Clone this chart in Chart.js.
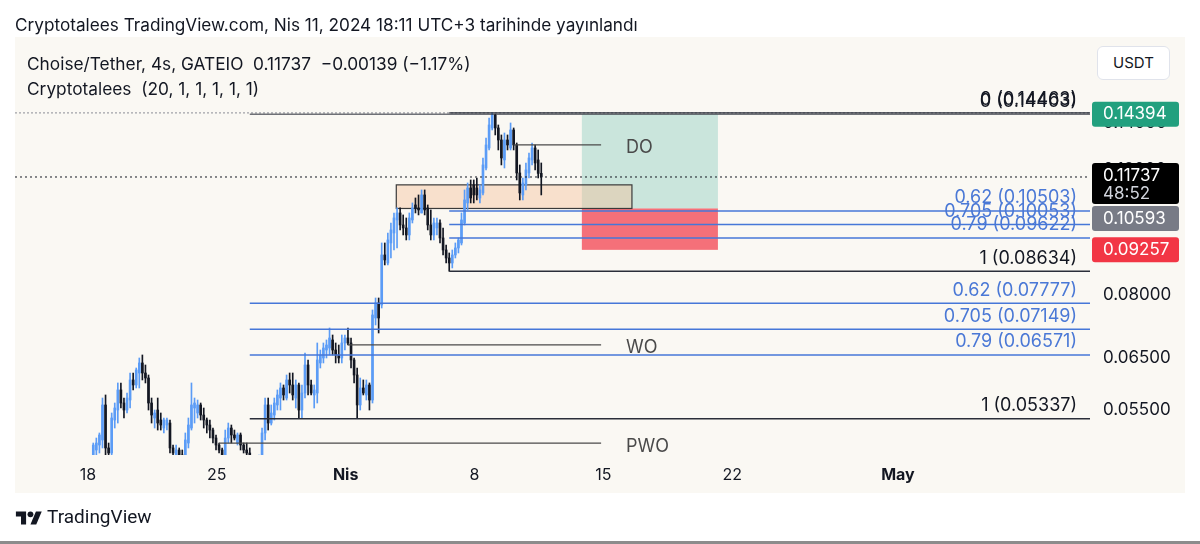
<!DOCTYPE html>
<html><head><meta charset="utf-8">
<script src="https://cdn.jsdelivr.net/npm/chart.js@4.4.1/dist/chart.umd.min.js"></script>
<style>
html,body{margin:0;padding:0;background:#fff;width:1200px;height:544px;overflow:hidden;font-family:Inter,Roboto,sans-serif;color:#131722}
#wrap{position:relative;width:1200px;height:544px}
canvas{position:absolute;left:0;top:0}
.t{position:absolute;white-space:nowrap;line-height:20px;color:#131722}
#usdt{position:absolute;left:1097px;top:46px;width:71px;height:32px;border:1px solid #e0e3eb;border-radius:6px;background:#fff;font-size:15px;line-height:32px;text-align:center;color:#131722}
#bottomline{position:absolute;left:0;top:541px;width:1200px;height:3px;background:#8c8c8c}
</style></head><body>
<div id="wrap">
<canvas id="c" width="1200" height="544"></canvas>
<div class="t" style="left:15px;top:15px;font-size:17.2px">Cryptotalees TradingView.com, Nis 11, 2024 18:11 UTC+3 tarihinde yayınlandı</div>
<div class="t" style="left:27px;top:54px;font-size:17.3px">Choise/Tether, 4s, GATEIO&nbsp; 0.11737&nbsp; −0.00139 (−1.17%)</div>
<div class="t" style="left:27px;top:79px;font-size:17.3px">Cryptotalees&nbsp; (20, 1, 1, 1, 1, 1)</div>
<div id="usdt">USDT</div>
<svg style="position:absolute;left:15px;top:510px" width="28" height="16" viewBox="0 0 36 22"><path d="M14 20H7V9H0V2h14v18z" fill="#131722"/><circle cx="20" cy="6" r="4" fill="#131722"/><path d="M28 20h-8l7.5-18h8L28 20z" fill="#131722"/></svg>
<div class="t" style="left:47px;top:507px;font-size:19px;font-family:Roboto">TradingView</div>
<div id="bottomline"></div>
</div>
<script>
// x values are days relative to Nis 1, 2024 00:00 (UTC+3)
const firstCandleDay = -13.875;      // Mar 18, 03:00
const candleStepDays = 4 / 24;       // 4h candles
const xMin = -17.96, xMax = 40.43;
const yMin = 0.04744, yMax = 0.18461;

const xTickDays = [-14, -7, 0, 7, 14, 21, 30];
const xTickLabels = ['18', '25', 'Nis', '8', '15', '22', 'May'];
const yTickValues = [0.055, 0.065, 0.08, 0.12, 0.14];

const opens = [
.04548,.04744,.04822,.04901,.04982,.05584,.04854,.04775,.05317,.05493,
.05864,.05620,.05493,.05675,.06058,.05960,.06197,.06403,.06197,.06097,
.05620,.05352,.05493,.05317,.05180,.05231,.05265,.04854,.04744,.04822,
.04744,.04698,.04933,.05180,.05529,.05440,.05584,.05404,.05317,.05231,
.05146,.05014,.04901,.04822,.04744,.05014,.05180,.05064,.04933,.05064,
.04901,.04822,.04775,.04668,.04548,.04637,.04698,.05097,.05584,.05265,
.05404,.05584,.05712,.05902,.05712,.06058,.05960,.05712,.05960,.05493,
.05806,.06361,.05960,.05769,.05806,.06403,.06508,.06679,.06723,.06901,
.06679,.06572,.06508,.06834,.06946,.06834,.06466,.06157,.05584,.05902,
.05769,.05960,.05675,.07414,.07785,.07735,.09104,.08869,.09467,.09780,
.10204,.10439,.10039,.09941,.09717,.10204,.10715,.10611,.10439,.11070,
.10611,.10039,.09717,.09941,.10104,.09622,.09253,.09015,.08869,.09104,
.09314,.09467,.10104,.10785,.11325,.11437,.11325,.10962,.11142,.12087,
.12901,.13770,.14366,.13770,.13242,.12407,.13242,.12901,.13681,.13028,
.11892,.11070,.11437,.11892,.12407,.12901,.12407,.11876];
const highs = [
.04698,.04933,.05014,.05097,.05712,.05769,.04933,.05440,.05620,.05999,
.05999,.05712,.05806,.06197,.06197,.06299,.06508,.06572,.06361,.06157,
.05712,.05493,.05712,.05440,.05352,.05352,.05317,.04901,.04901,.04854,
.04822,.05097,.05352,.05999,.05712,.05675,.05620,.05529,.05352,.05317,
.05180,.05064,.04933,.04854,.05146,.05265,.05231,.05146,.05097,.05097,
.04933,.04933,.04854,.04698,.04668,.04744,.05180,.05712,.05712,.05584,
.05712,.05864,.05999,.05960,.06157,.06197,.06197,.06058,.05999,.05960,
.06615,.06466,.06058,.05960,.06834,.06679,.06834,.06901,.07176,.07014,
.06834,.06789,.07014,.07014,.07176,.06946,.06508,.06299,.06097,.06058,
.06058,.05999,.07610,.07913,.07913,.09467,.09467,.09780,.10104,.10439,
.10611,.10611,.10372,.10270,.10439,.10785,.10962,.11070,.11252,.11252,
.10715,.10542,.10270,.10270,.10204,.09941,.09405,.09163,.09253,.09467,
.09622,.10439,.11252,.11511,.11624,.11624,.11700,.11437,.12488,.13328,
.14226,.14463,.14400,.13905,.13460,.13547,.13460,.13996,.13770,.13113,
.12207,.11700,.12286,.12693,.13113,.13028,.12818,.12286];
const lows = [
.04489,.04698,.04744,.04775,.04854,.04744,.04698,.04744,.05180,.05265,
.05529,.05352,.05440,.05529,.05864,.05902,.05902,.06058,.05999,.05493,
.05265,.05180,.05146,.05146,.05097,.05146,.04775,.04744,.04698,.04698,
.04637,.04637,.04854,.05146,.05265,.05352,.05317,.05180,.05097,.05014,
.04933,.04822,.04775,.04637,.04668,.04933,.04933,.04982,.04901,.04822,
.04775,.04744,.04622,.04518,.04489,.04592,.04637,.04982,.05146,.05231,
.05317,.05493,.05493,.05675,.05675,.05806,.05675,.05529,.05352,.05352,
.05712,.05769,.05769,.05529,.05620,.06299,.06403,.06508,.06572,.06572,
.06403,.06403,.06403,.06679,.06789,.06299,.05999,.05352,.05493,.05769,
.05675,.05493,.05620,.07247,.07060,.07659,.08812,.08812,.09015,.09253,
.09314,.09877,.09717,.09560,.09560,.10104,.10439,.10372,.10439,.10372,
.09877,.09560,.09560,.09717,.09467,.09104,.08869,.08634,.08726,.09015,
.09163,.09405,.10039,.10542,.10785,.10785,.10891,.10785,.11070,.12009,
.12818,.13681,.13460,.12818,.12207,.12087,.12818,.12818,.12818,.11624,
.10891,.10891,.11252,.11700,.12207,.12009,.11700,.11070];
const closes = [
.04637,.04901,.04933,.05064,.05584,.04854,.04775,.05352,.05529,.05864,
.05620,.05493,.05712,.06058,.05960,.06259,.06403,.06197,.06097,.05620,
.05404,.05440,.05265,.05231,.05317,.05317,.04854,.04775,.04822,.04744,
.04698,.04982,.05231,.05584,.05620,.05584,.05404,.05317,.05231,.05146,
.05014,.04901,.04822,.04698,.05014,.05180,.05064,.05014,.05064,.04901,
.04822,.04775,.04668,.04592,.04637,.04698,.05097,.05584,.05265,.05440,
.05620,.05769,.05902,.05769,.06058,.05960,.05769,.05960,.05493,.05806,
.06361,.05960,.05806,.05864,.06466,.06572,.06723,.06789,.06946,.06679,
.06572,.06508,.06834,.06946,.06834,.06466,.06157,.05584,.05902,.05806,
.05960,.05675,.07487,.07785,.07414,.09104,.08957,.09560,.09877,.10270,
.10439,.10039,.09941,.09717,.10270,.10611,.10611,.10542,.11070,.10542,
.10039,.09717,.10104,.10104,.09622,.09253,.09015,.08869,.09104,.09314,
.09560,.10204,.10891,.11325,.10962,.11070,.11070,.11252,.12207,.13028,
.13905,.14366,.13770,.13242,.12488,.13242,.13028,.13681,.13028,.11892,
.11142,.11511,.12009,.12488,.12901,.12286,.11876,.11737];

// Fibonacci levels
const fibLevels = ['0', '0.62', '0.705', '0.79', '1'];
const fibUpperPrices = [0.14463, 0.10503, 0.10053, 0.09622, 0.08634];
const fibLowerPrices = [0.14403, 0.07777, 0.07149, 0.06571, 0.05337];
const fibUpperStart = 5.625, fibLowerStart = -5.208;

// Daily / weekly / previous weekly opens
const openNames = ['DO', 'WO', 'PWO'];
const openPrices = [0.1303, 0.0679, 0.0493];
const openStarts = [9.125, 0.125, -6.875];
const openEnd = 13.875;

const lastPrice = 0.11737, prevClose = 0.11876, highPrice = 0.14463;
const countdown = '48:52';
// zone box and long position
const zoneFrom = 2.75, zoneTo = 15.55, zoneTop = 0.1144, zoneBottom = 0.10593;
const posFrom = 12.83, posTo = 20.22;
const targetPrice = 0.14394, entryPrice = 0.10593, stopPrice = 0.09257;

const FONT = 'Inter';
const UP = '#5b9cf6', DOWN = '#131722', FIBBLUE = '#4677d8', FIBTEXT = '#4a78d6';
const candleX = opens.map((_, i) => firstCandleDay + i * candleStepDays);
const candleColors = closes.map((c, i) => c >= opens[i] ? UP : DOWN);

function hline(x0, x1, price, color, width, dash, order) {
  return {type: 'line', data: [{x: x0, y: price}, {x: x1, y: price}], borderColor: color,
    borderWidth: width, borderDash: dash || [], pointRadius: 0, fill: false, tension: 0, order: order};
}
const lineSets = [];
lineSets.push(hline(xMin, xMax, highPrice, '#8a8d96', 1, [2, 2], 5));
lineSets.push(hline(xMin, xMax, lastPrice, '#131722', 1, [2, 3], 0));
fibLowerPrices.forEach((p, i) => lineSets.push(hline(fibLowerStart, xMax, p, i === 0 || i === 4 ? '#2a2e39' : FIBBLUE, i === 0 ? 1 : 1.5, [], 0)));
fibUpperPrices.forEach((p, i) => lineSets.push(hline(fibUpperStart, xMax, p, i === 0 || i === 4 ? '#2a2e39' : FIBBLUE, i === 0 ? 1.2 : 1.5, [], 0)));
openPrices.forEach((p, i) => lineSets.push(hline(openStarts[i], openEnd, p, '#4a4a4a', 1.2, [], 0)));

function rrect(c, x, y, w, h, r) {
  c.beginPath(); c.moveTo(x + r, y); c.lineTo(x + w - r, y); c.quadraticCurveTo(x + w, y, x + w, y + r);
  c.lineTo(x + w, y + h - r); c.quadraticCurveTo(x + w, y + h, x + w - r, y + h); c.lineTo(x + r, y + h);
  c.quadraticCurveTo(x, y + h, x, y + h - r); c.lineTo(x, y + r); c.quadraticCurveTo(x, y, x + r, y); c.closePath();
}

const overlay = {
  id: 'overlay',
  beforeDraw(chart) {
    const c = chart.ctx; c.save(); c.fillStyle = '#faf8f3'; c.fillRect(15, 37, 1170, 456); c.restore();
  },
  beforeDatasetsDraw(chart) {
    const c = chart.ctx, xs = chart.scales.x, ys = chart.scales.y, a = chart.chartArea;
    c.save(); c.beginPath(); c.rect(a.left, a.top, a.right - a.left, a.bottom - a.top); c.clip();
    const px0 = xs.getPixelForValue(posFrom), px1 = xs.getPixelForValue(posTo);
    const yT = ys.getPixelForValue(targetPrice), yE = ys.getPixelForValue(entryPrice), yS = ys.getPixelForValue(stopPrice);
    c.fillStyle = 'rgba(8,153,129,0.2)'; c.fillRect(px0, yT, px1 - px0, yE - yT);
    c.fillStyle = 'rgba(242,54,69,0.7)'; c.fillRect(px0, yE, px1 - px0, yS - yE);
    const zx0 = xs.getPixelForValue(zoneFrom), zx1 = xs.getPixelForValue(zoneTo);
    const zy0 = ys.getPixelForValue(zoneTop), zy1 = ys.getPixelForValue(zoneBottom);
    c.fillStyle = 'rgba(245,190,150,0.42)'; c.fillRect(zx0, zy0, zx1 - zx0, zy1 - zy0);
    c.strokeStyle = '#3a3a3a'; c.lineWidth = 1.2; c.strokeRect(zx0, zy0, zx1 - zx0, zy1 - zy0);
    c.restore();
  },
  afterDatasetsDraw(chart) {
    const c = chart.ctx, xs = chart.scales.x, ys = chart.scales.y, a = chart.chartArea;
    c.save(); c.beginPath(); c.rect(a.left, a.top, a.right - a.left, a.bottom - a.top); c.clip();
    c.font = '18px ' + FONT; c.textBaseline = 'middle';
    const tx = xs.getPixelForValue(xMax) - 13;
    c.textAlign = 'right';
    fibLowerPrices.forEach((p, i) => {
      c.fillStyle = (i === 0 || i === 4) ? '#131722' : FIBTEXT;
      c.fillText(fibLevels[i] + ' (' + p.toFixed(5) + ')', tx, ys.getPixelForValue(p) - 13);
    });
    fibUpperPrices.forEach((p, i) => {
      c.fillStyle = (i === 0 || i === 4) ? '#131722' : FIBTEXT;
      c.fillText(fibLevels[i] + ' (' + p.toFixed(5) + ')', tx, ys.getPixelForValue(p) - 13);
    });
    c.textAlign = 'left'; c.fillStyle = '#4a4a4a';
    openPrices.forEach((p, i) => {
      c.fillText(openNames[i], xs.getPixelForValue(openEnd) + 25, ys.getPixelForValue(p) + 3);
    });
    c.restore();
  },
  afterDraw(chart) {
    const c = chart.ctx, ys = chart.scales.y;
    const bx = 1092, bw = 87;
    c.save(); c.font = '17px ' + FONT; c.textBaseline = 'middle'; c.textAlign = 'left';
    let y = ys.getPixelForValue(targetPrice);
    c.fillStyle = '#22a07e'; rrect(c, bx, y - 12.5, bw, 25, 3); c.fill();
    c.fillStyle = '#fff'; c.fillText(targetPrice.toFixed(5), 1103, y);
    y = ys.getPixelForValue(lastPrice);
    const lastTop = y - 14, lastH = 41;
    c.fillStyle = '#000'; rrect(c, bx, lastTop, bw, lastH, 3); c.fill();
    c.fillStyle = '#fff'; c.fillText(lastPrice.toFixed(5), 1103, lastTop + 13);
    c.fillStyle = '#d1d4dc'; c.fillText(countdown, 1103, lastTop + 31);
    y = ys.getPixelForValue(entryPrice);
    const eTop = Math.max(y - 12.5, lastTop + lastH + 2);
    c.fillStyle = '#787b86'; rrect(c, bx, eTop, bw, 25, 3); c.fill();
    c.fillStyle = '#fff'; c.fillText(entryPrice.toFixed(5), 1103, eTop + 12.5);
    y = ys.getPixelForValue(stopPrice);
    c.fillStyle = '#f23645'; rrect(c, bx, y - 12.5, bw, 25, 3); c.fill();
    c.fillStyle = '#fff'; c.fillText(stopPrice.toFixed(5), 1103, y);
    c.restore();
  }
};

new Chart(document.getElementById('c'), {
  type: 'bar',
  data: {
    datasets: [
      {label: 'wick', data: candleX.map((x, i) => ({x: x, y: [lows[i], highs[i]]})),
        backgroundColor: candleColors, barThickness: 1, grouped: false, order: 3},
      {label: 'body', data: candleX.map((x, i) => ({x: x, y: [Math.min(opens[i], closes[i]), Math.max(opens[i], closes[i])]})),
        backgroundColor: candleColors, barThickness: 2, grouped: false, minBarLength: 1, order: 2},
      ...lineSets
    ]
  },
  options: {
    responsive: false, animation: false, events: [],
    layout: {padding: {left: 15, top: 38, right: 15, bottom: 51}},
    plugins: {legend: {display: false}, tooltip: {enabled: false}},
    scales: {
      x: {type: 'linear', min: xMin, max: xMax, offset: false,
        grid: {display: false, drawTicks: false}, border: {display: false},
        afterBuildTicks: s => { s.ticks = xTickDays.map(v => ({value: v})); },
        afterFit: s => { s.height = 38; },
        ticks: {padding: 11, color: '#131722', autoSkip: false, maxRotation: 0,
          font: ctx => ({family: FONT, size: 16, weight: (ctx.tick && (ctx.tick.value === 0 || ctx.tick.value === 30)) ? 'bold' : 'normal'}),
          callback: v => { const i = xTickDays.indexOf(v); return i >= 0 ? xTickLabels[i] : ''; }}},
      y: {type: 'logarithmic', position: 'right', min: yMin, max: yMax,
        grid: {display: false, drawTicks: false}, border: {display: false},
        afterBuildTicks: s => { s.ticks = yTickValues.map(v => ({value: v})); },
        afterFit: s => { s.width = 95; },
        ticks: {padding: 13, color: '#131722', autoSkip: false, font: {family: FONT, size: 17},
          callback: v => Number(v).toFixed(5)}}
    }
  },
  plugins: [overlay]
});
</script>
</body></html>
